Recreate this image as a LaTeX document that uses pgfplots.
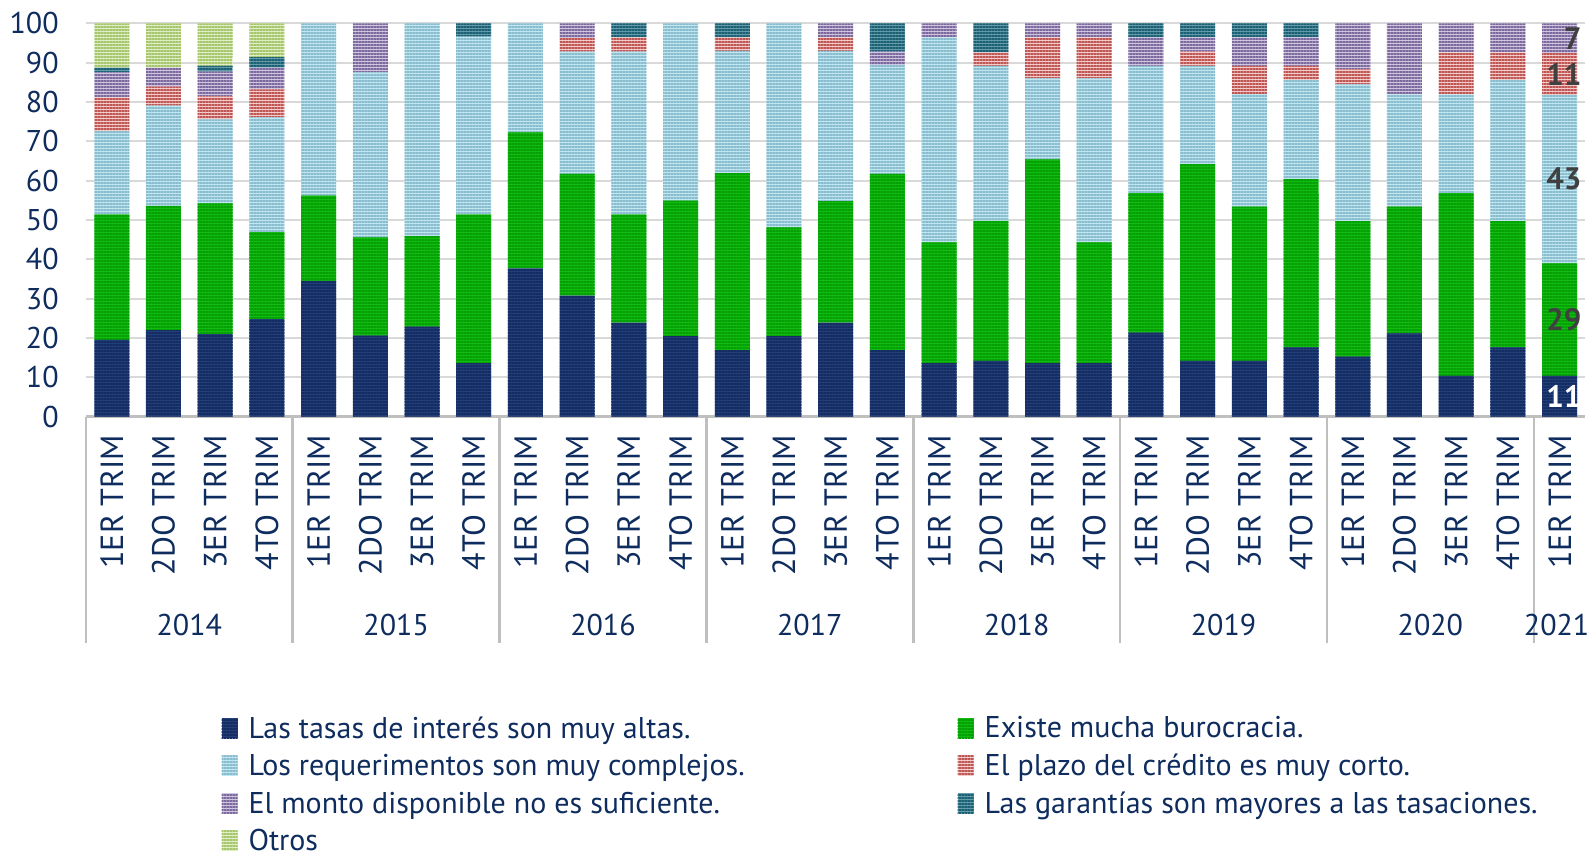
\documentclass[border=0pt]{standalone}
\usepackage{fontspec}
\setmainfont{PT Sans}
\usepackage{pgfplots}
\pgfplotsset{compat=1.18}
\usepackage{pgfplotstable}
\usetikzlibrary{patterns.meta}
\definecolor{txt}{RGB}{14,44,94}
\definecolor{navyF}{RGB}{34,63,122}
\definecolor{navyS}{RGB}{20,44,98}
\definecolor{greenF}{RGB}{16,188,16}
\definecolor{greenS}{RGB}{6,160,6}
\definecolor{blueF}{RGB}{192,230,240}
\definecolor{blueS}{RGB}{136,188,206}
\definecolor{redF}{RGB}{242,204,202}
\definecolor{redS}{RGB}{192,86,84}
\definecolor{purF}{RGB}{208,198,224}
\definecolor{purS}{RGB}{124,106,158}
\definecolor{tealF}{RGB}{100,156,172}
\definecolor{tealS}{RGB}{28,96,116}
\definecolor{othF}{RGB}{224,238,200}
\definecolor{othS}{RGB}{166,198,108}
\definecolor{gridc}{RGB}{217,217,217}
\definecolor{axl}{RGB}{191,191,191}
\definecolor{lbl}{RGB}{64,64,64}

\pgfplotstableread{
x t b r p m g o
0 19.5 31.9 21.2 8.6 6.3 1.2 11.3
1 22.0 31.6 25.5 4.8 4.8 0 11.3
2 21.0 33.2 21.4 5.8 6.3 1.5 10.8
3 24.8 22.1 29.2 7.1 5.5 2.7 8.6
4 34.5 21.7 43.8 0 0 0 0
5 20.6 25.0 41.9 0 12.5 0 0
6 22.9 23.0 54.1 0 0 0 0
7 13.6 37.8 45.2 0 0 3.4 0
8 37.7 34.6 27.7 0 0 0 0
9 30.8 30.9 31.1 3.4 3.8 0 0
10 23.9 27.5 41.4 3.6 0 3.6 0
11 20.5 34.4 45.1 0 0 0 0
12 16.9 45.0 31.1 3.4 0 3.6 0
13 20.5 27.6 51.9 0 0 0 0
14 23.9 30.9 38.2 3.4 3.6 0 0
15 16.9 44.8 27.7 0 3.4 7.2 0
16 13.6 30.7 52.1 0 3.6 0 0
17 14.2 35.6 39.4 3.4 0 7.4 0
18 13.6 51.8 20.6 10.4 3.6 0 0
19 13.6 30.7 41.7 10.4 3.6 0 0
20 21.4 35.4 32.4 0 7.2 3.6 0
21 14.2 50.0 25.0 3.6 3.6 3.6 0
22 14.2 39.2 28.6 7.2 7.2 3.6 0
23 17.6 42.8 25.2 3.6 7.2 3.6 0
24 15.3 34.4 34.8 3.8 11.7 0 0
25 21.2 32.2 28.5 0 18.1 0 0
26 10.4 46.4 25.1 10.7 7.4 0 0
27 17.6 32.1 35.9 7.0 7.4 0 0
28 10.4 28.6 42.8 10.6 7.6 0 0
}\data

\tikzset{ser/.style 2 args={fill=#1, draw=none,
  postaction={pattern={Lines[angle=0,distance=3pt,line width=1.2pt]}, pattern color=#2}},
  yrlab/.style={font=\fontsize{30}{36}\selectfont, text=txt, yshift=-208pt},
  vlab/.style={anchor=east, font=\bfseries\fontsize{31}{36}\selectfont, text=lbl}}

\begin{document}
\begin{tikzpicture}
\useasboundingbox (0,0) rectangle (1589pt,858pt);
\begin{axis}[
  at={(85.9pt,441.3pt)}, anchor=south west, scale only axis,
  width=1499.6pt, height=393.4pt,
  ybar stacked, bar width=35pt,
  xmin=-0.5, xmax=28.5, ymin=0, ymax=100,
  ytick={0,10,...,100},
  xtick={0,...,28},
  xticklabels={1ER TRIM,2DO TRIM,3ER TRIM,4TO TRIM,1ER TRIM,2DO TRIM,3ER TRIM,4TO TRIM,1ER TRIM,2DO TRIM,3ER TRIM,4TO TRIM,1ER TRIM,2DO TRIM,3ER TRIM,4TO TRIM,1ER TRIM,2DO TRIM,3ER TRIM,4TO TRIM,1ER TRIM,2DO TRIM,3ER TRIM,4TO TRIM,1ER TRIM,2DO TRIM,3ER TRIM,4TO TRIM,1ER TRIM},
  axis x line*=bottom, axis y line*=left,
  y axis line style={draw=none},
  x axis line style={draw=axl, line width=3pt},
  ymajorgrids, grid style={draw=gridc, line width=2pt},
  major tick length=0pt,
  tick style={draw=none},
  extra x ticks={-0.5,3.5,...,27.5},
  extra x tick labels={},
  extra x tick style={major tick length=226pt, tick align=outside, grid=none,
     tick style={draw=axl, line width=2.5pt}},
  /pgf/number format/assume math mode=true,
  yticklabel style={font=\fontsize{30}{34}\selectfont, text=txt, anchor=east, inner sep=0pt, xshift=-27pt},
  xticklabel style={font=\fontsize{32}{36}\selectfont, text=txt, yshift=-18pt, rotate=90, anchor=east, inner sep=0pt},
  clip=false,
  legend columns=2,
  legend cell align=left,
  legend style={at={(axis description cs:0.0903,-0.759)}, anchor=north west, draw=none, fill=none,
     font=\fontsize{30}{34}\selectfont, text=txt, inner sep=0pt, row sep=12.5pt,
     nodes={inner xsep=3pt, inner ysep=1pt},
     /tikz/every odd column/.append style={column sep=8pt},
     /tikz/every even column/.append style={column sep=210pt}},
  legend image code/.code={\path[#1, draw=none] (0pt,-10pt) rectangle (16pt,10pt);},
]
\addplot[ser={navyF}{navyS}] table[x=x,y=t]{\data};
\addlegendentry{Las tasas de interés son muy altas.}
\addplot[ser={greenF}{greenS}] table[x=x,y=b]{\data};
\addlegendentry{Existe mucha burocracia.}
\addplot[ser={blueF}{blueS}] table[x=x,y=r]{\data};
\addlegendentry{Los requerimentos son muy complejos.}
\addplot[ser={redF}{redS}] table[x=x,y=p]{\data};
\addlegendentry{El plazo del crédito es muy corto.}
\addplot[ser={purF}{purS}] table[x=x,y=m]{\data};
\addlegendentry{El monto disponible no es suficiente.}
\addplot[ser={tealF}{tealS}] table[x=x,y=g]{\data};
\addlegendentry{Las garantías son mayores a las tasaciones.}
\addplot[ser={othF}{othS}] table[x=x,y=o]{\data};
\addlegendentry{Otros}
\node[yrlab] at (axis cs:1.5,0) {2014};
\node[yrlab] at (axis cs:5.5,0) {2015};
\node[yrlab] at (axis cs:9.5,0) {2016};
\node[yrlab] at (axis cs:13.5,0) {2017};
\node[yrlab] at (axis cs:17.5,0) {2018};
\node[yrlab] at (axis cs:21.5,0) {2019};
\node[yrlab] at (axis cs:25.5,0) {2020};
\node[yrlab, xshift=-3pt] at (axis cs:28,0) {2021};
\coordinate (L1) at (axis cs:28.49,5.2);
\coordinate (L2) at (axis cs:28.49,24.7);
\coordinate (L3) at (axis cs:28.49,60.4);
\coordinate (L4) at (axis cs:28.49,87.1);
\coordinate (L5) at (axis cs:28.49,96.2);
\end{axis}
\node[vlab, text=white] at (L1) {11};
\node[vlab] at (L2) {29};
\node[vlab] at (L3) {43};
\node[vlab] at (L4) {11};
\node[vlab] at (L5) {7};
\end{tikzpicture}
\end{document}
